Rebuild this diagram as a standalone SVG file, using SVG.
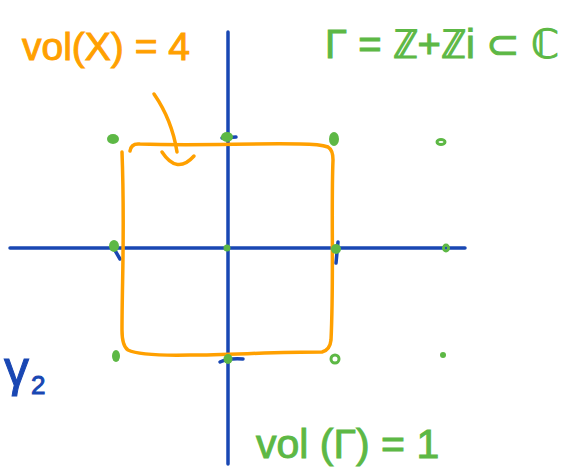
<svg xmlns="http://www.w3.org/2000/svg" width="567" height="468" viewBox="0 0 567 468">
<style>
.ax{stroke:#1947B3;stroke-width:3.5;fill:none;stroke-linecap:round}
.sq{stroke:#FFA000;stroke-width:3.5;fill:none;stroke-linecap:round;stroke-linejoin:round}
.pt{fill:#5DB845}
.ring{fill:none;stroke:#5DB845;stroke-width:3}
.t{font-family:"Liberation Sans",Arial,sans-serif;font-weight:normal;stroke-width:1}
.or{fill:#FFA000;stroke:#FFA000}.gr{fill:#5DB845;stroke:#5DB845}.bl{fill:#1947B3;stroke:#1947B3}
</style>
<rect width="567" height="468" fill="#fff"/>
<g id="axes">
<line class="ax" x1="10" y1="248" x2="465" y2="248"/>
<line class="ax" x1="228" y1="32" x2="228" y2="464"/>
<path class="ax" d="M113 247 L120 259"/>
<path class="ax" d="M338 242 L336 263"/>
<path class="ax" d="M222 138 L236 137"/>
<path class="ax" d="M220 362 Q228 358 243 359"/>
</g>
<g id="square">
<path class="sq" d="M130 151 Q131 143 140 144 C200 146 250 143 300 144 Q320 144 328 147 Q333 150 333 160 C331 210 334 280 331 340 Q330 350 322 352 C270 352 230 355 190 355 Q140 356 128 350 Q122 346 122 330 C122 280 125 230 122 152"/>
<path class="sq" d="M154 94 Q172 120 177 152"/>
<path class="sq" d="M162 152 Q177 175 194 156"/>
</g>
<g id="lattice">
<ellipse class="pt" cx="113" cy="139" rx="6" ry="5"/>
<ellipse class="pt" cx="227" cy="137" rx="6" ry="5"/>
<ellipse class="pt" cx="334" cy="139" rx="5" ry="7"/>
<ellipse class="ring" cx="441" cy="142" rx="4" ry="2.5"/>
<ellipse class="pt" cx="114" cy="246" rx="5" ry="6"/>
<circle class="pt" cx="227" cy="248" r="3.5"/>
<ellipse class="pt" cx="336" cy="249" rx="5" ry="5"/>
<ellipse class="ring" cx="446" cy="248" rx="2.5" ry="3"/>
<ellipse class="pt" cx="116" cy="356" rx="4" ry="6"/>
<ellipse class="pt" cx="228" cy="359" rx="4.5" ry="5"/>
<circle class="ring" cx="335" cy="359" r="4"/>
<circle class="pt" cx="443" cy="355" r="3"/>
</g>
<g id="labels">
<text class="t or" x="22" y="60" font-size="39">vol(X) = 4</text>
<text class="t gr" x="325" y="58" font-size="40">Γ = ℤ+ℤi ⊂ ℂ</text>
<text class="t bl" x="4" y="386" font-size="50">γ</text>
<text class="t bl" x="31" y="394" font-size="26">2</text>
<text class="t gr" x="256" y="458" font-size="41">vol (Γ) = 1</text>
</g>
</svg>
